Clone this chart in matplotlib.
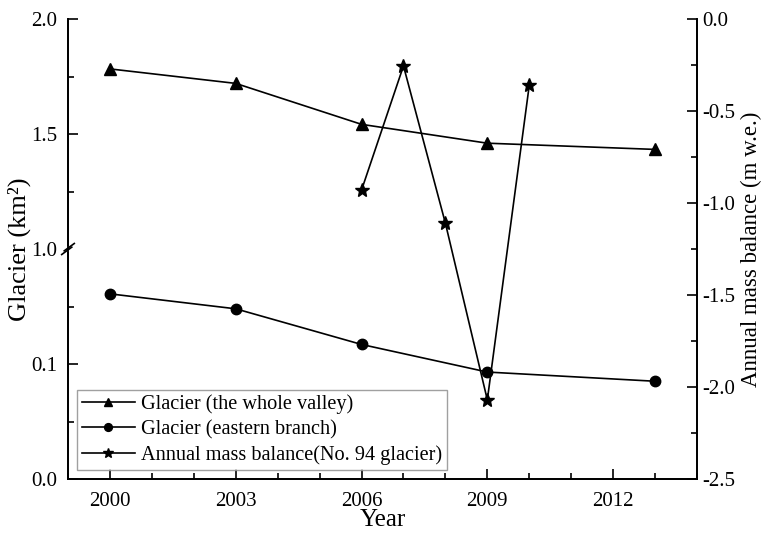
import numpy as np
import matplotlib
matplotlib.use("Agg")
import matplotlib.pyplot as plt
from matplotlib.ticker import FixedLocator, FixedFormatter, MultipleLocator

plt.rcParams['font.family'] = ['Liberation Serif', 'DejaVu Serif']

# ---- data ----
years_area = [2000, 2003, 2006, 2009, 2013]
whole_valley = [1.783, 1.720, 1.542, 1.460, 1.433]
eastern_branch = [0.161, 0.148, 0.117, 0.093, 0.085]
years_mb = [2006, 2007, 2008, 2009, 2010]
mass_balance = [-0.93, -0.255, -1.11, -2.07, -0.36]

x_ticks = [2000, 2003, 2006, 2009, 2012]
left_ticks = [0.0, 0.1, 1.0, 1.5, 2.0]
left_tick_labels = ["0.0", "0.1", "1.0", "1.5", "2.0"]
left_minor = [0.05, 0.15, 1.25, 1.75]

labels = ["Glacier (the whole valley)", "Glacier (eastern branch)",
          "Annual mass balance(No. 94 glacier)"]

# broken-axis scale: 0-0.2 on lower half, 1.0-2.0 on upper half
LOW_TOP = 0.2
UP_BOT = 1.0


def fwd(v):
    v = np.asarray(v, dtype=float)
    low = v / LOW_TOP * 0.5
    up = 0.5 + (v - UP_BOT) / (2.0 - UP_BOT) * 0.5
    mid = np.full_like(v, 0.5)
    return np.where(v <= LOW_TOP, low, np.where(v >= UP_BOT, up, mid))


def inv(u):
    u = np.asarray(u, dtype=float)
    return np.where(u <= 0.5, u / 0.5 * LOW_TOP, UP_BOT + (u - 0.5) / 0.5 * (2.0 - UP_BOT))


W, H = 761, 534
fig = plt.figure(figsize=(W / 100, H / 100), dpi=100)
ax = fig.add_axes([68 / W, (H - 479) / H, (697 - 68) / W, 460 / H])
ax.set_yscale('function', functions=(fwd, inv))
ax.set_ylim(0.0, 2.0)
ax.set_xlim(1999, 2014)

lw = 1.2
l1, = ax.plot(years_area, whole_valley, '-', color='black', lw=lw,
              marker='^', ms=8, mfc='black', mec='black')
l2, = ax.plot(years_area, eastern_branch, '-', color='black', lw=lw,
              marker='o', ms=7.5, mfc='black', mec='black')

ax2 = ax.twinx()
ax2.set_ylim(-2.5, 0.0)
l3, = ax2.plot(years_mb, mass_balance, '-', color='black', lw=lw,
               marker='*', ms=10, mfc='black', mec='black')

# ticks
ax.yaxis.set_major_locator(FixedLocator(left_ticks))
ax.yaxis.set_major_formatter(FixedFormatter(left_tick_labels))
ax.yaxis.set_minor_locator(FixedLocator(left_minor))
ax.set_xticks(x_ticks)
ax.xaxis.set_minor_locator(MultipleLocator(1))
ax2.yaxis.set_major_locator(MultipleLocator(0.5))
ax2.yaxis.set_minor_locator(MultipleLocator(0.25))
ax2.yaxis.set_major_formatter(matplotlib.ticker.FormatStrFormatter('%.1f'))

for a in (ax, ax2):
    a.spines['top'].set_visible(False)
    for s in a.spines.values():
        s.set_linewidth(1.3)
    a.tick_params(which='major', direction='in', length=7, width=1.2, labelsize=15)
    a.tick_params(which='minor', direction='in', length=4, width=1.2)
ax.tick_params(axis='y', which='both', right=False)
ax.tick_params(axis='x', pad=9)
ax.tick_params(axis='y', pad=8)
ax2.tick_params(axis='y', pad=4)

# axis break marks on left spine
brk = dict(transform=ax.transAxes, color='black', lw=1.2, clip_on=False, zorder=5)
ax.plot([-0.012, 0.012], [0.5, 0.5], color='white', lw=4, transform=ax.transAxes,
        clip_on=False, zorder=4)
ax.plot([-0.01, 0.006], [0.488, 0.504], **brk)
ax.plot([-0.006, 0.01], [0.496, 0.512], **brk)

ax.set_xlabel("Year", fontsize=18, labelpad=-1)
ax.set_ylabel("Glacier (km²)", fontsize=19, labelpad=0)
ax2.set_ylabel("Annual mass balance (m w.e.)", fontsize=16.5, labelpad=4)

leg = ax.legend([l1, l2, l3], labels, loc='lower left', bbox_to_anchor=(0.014, 0.02),
                fontsize=14.6, frameon=True, fancybox=False, edgecolor='#888888',
                handlelength=2.6, handletextpad=0.3, borderpad=0.25, labelspacing=0.28,
                markerscale=0.75, borderaxespad=0)
leg.get_frame().set_linewidth(1.0)

fig.savefig("out.png", dpi=100)
